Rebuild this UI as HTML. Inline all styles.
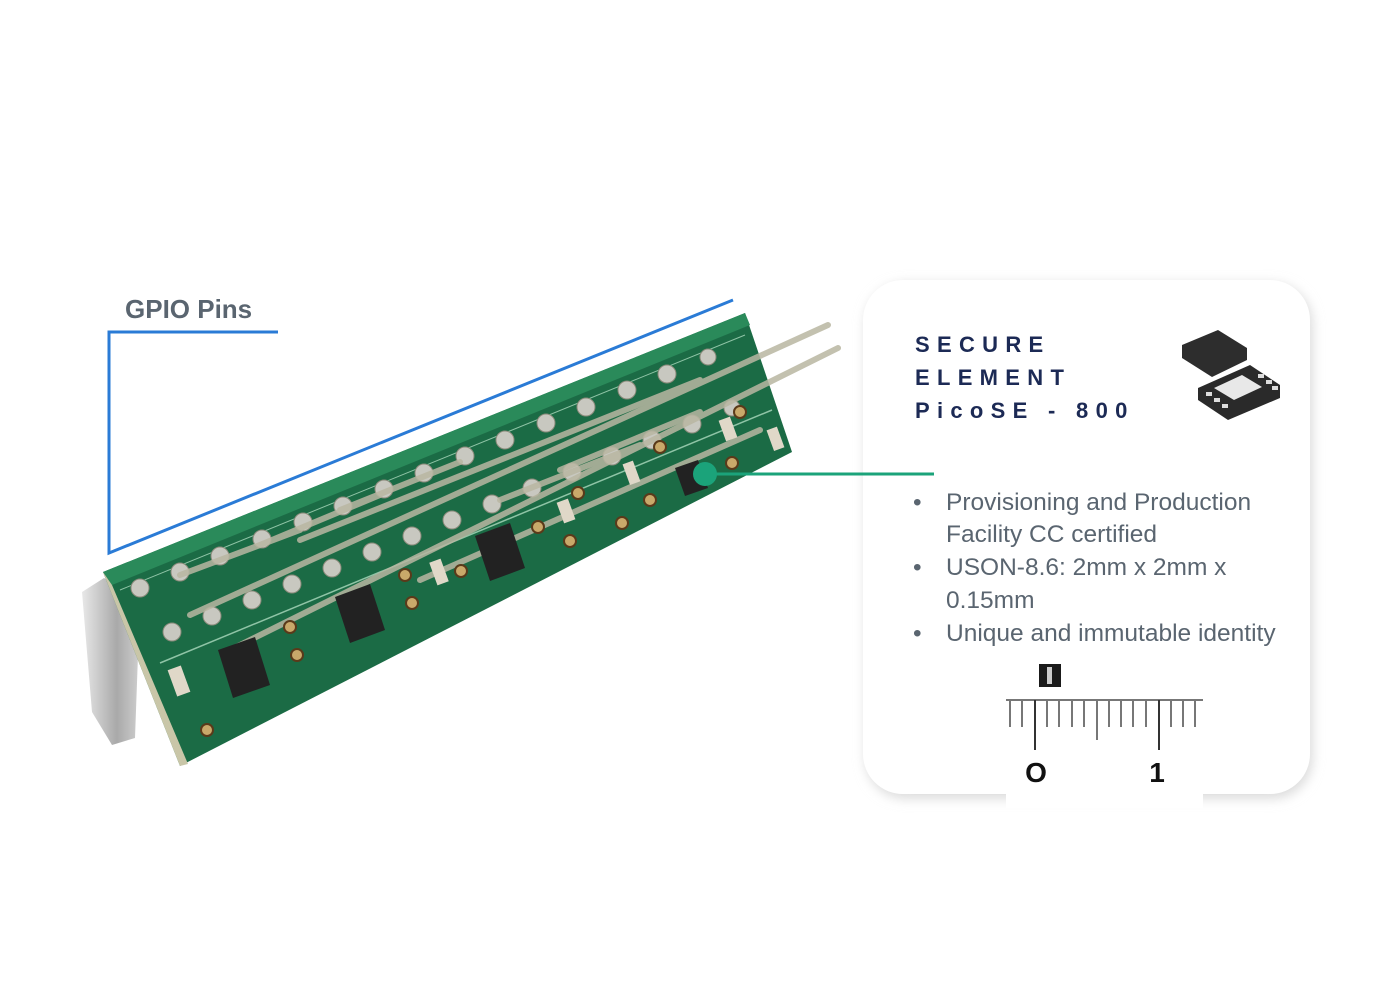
<!DOCTYPE html>
<html><head><meta charset="utf-8"><style>
html,body{margin:0;padding:0;background:#fff;width:1400px;height:1000px;overflow:hidden}
svg{display:block}
</style></head><body>
<svg width="1400" height="1000" viewBox="0 0 1400 1000" xmlns="http://www.w3.org/2000/svg">
<defs>
<filter id="sh" x="-10%" y="-10%" width="120%" height="120%"><feGaussianBlur stdDeviation="6"/></filter>
<linearGradient id="met" x1="0" x2="1"><stop offset="0" stop-color="#e8e8e8"/><stop offset="0.6" stop-color="#a9a9a9"/><stop offset="1" stop-color="#cfcfcf"/></linearGradient>
</defs>
<rect x="866" y="284" width="446" height="514" rx="40" fill="#d8d8d8" filter="url(#sh)"/>
<rect x="863" y="280" width="447" height="514" rx="40" fill="#fff"/>
<rect x="1006" y="780" width="197" height="28" fill="#fff"/>

<path d="M82,592 L104,578 L140,600 L135,738 L112,745 L92,712 Z" fill="url(#met)"/>
<polygon points="103,572 745,313 792,452 180,766" fill="#1b6b45"/>
<polygon points="103,572 745,313 750,325 112,585" fill="#2a8a5a"/>
<polygon points="103,572 112,585 188,764 180,766" fill="#c9c6a8"/>
<line x1="160" y1="663" x2="772" y2="410" stroke="#8fc4a6" stroke-width="1.5"/>
<line x1="120" y1="590" x2="745" y2="335" stroke="#8fc4a6" stroke-width="1"/>
<g fill="#c8c8c0" stroke="#8a8a7a" stroke-width="1">
<circle cx="140" cy="588" r="9"/><circle cx="180" cy="572" r="9"/><circle cx="220" cy="556" r="9"/><circle cx="262" cy="539" r="9"/><circle cx="303" cy="522" r="9"/><circle cx="343" cy="506" r="9"/><circle cx="384" cy="489" r="9"/><circle cx="424" cy="473" r="9"/><circle cx="465" cy="456" r="9"/><circle cx="505" cy="440" r="9"/><circle cx="546" cy="423" r="9"/><circle cx="586" cy="407" r="9"/><circle cx="627" cy="390" r="9"/><circle cx="667" cy="374" r="9"/><circle cx="708" cy="357" r="8"/>
<circle cx="172" cy="632" r="9"/><circle cx="212" cy="616" r="9"/><circle cx="252" cy="600" r="9"/><circle cx="292" cy="584" r="9"/><circle cx="332" cy="568" r="9"/><circle cx="372" cy="552" r="9"/><circle cx="412" cy="536" r="9"/><circle cx="452" cy="520" r="9"/><circle cx="492" cy="504" r="9"/><circle cx="532" cy="488" r="9"/><circle cx="572" cy="472" r="9"/><circle cx="612" cy="456" r="9"/><circle cx="652" cy="440" r="9"/><circle cx="692" cy="424" r="9"/><circle cx="732" cy="408" r="8"/>
</g>
<g stroke="#b9b7a2" stroke-width="6" stroke-linecap="round" opacity="0.85">
<line x1="190" y1="615" x2="828" y2="325"/>
<line x1="230" y1="650" x2="838" y2="348"/>
<line x1="300" y1="540" x2="700" y2="380"/>
<line x1="420" y1="580" x2="760" y2="430"/>
<line x1="180" y1="575" x2="300" y2="530"/>
<line x1="260" y1="545" x2="380" y2="495"/>
<line x1="340" y1="510" x2="460" y2="462"/>
<line x1="500" y1="500" x2="640" y2="445"/>
<line x1="560" y1="470" x2="700" y2="412"/>
</g>
<g fill="#222">
<polygon points="218,650 255,637 270,685 233,698"/>
<polygon points="335,597 370,584 385,630 350,643"/>
<polygon points="475,536 510,523 525,568 490,581"/>
<polygon points="675,468 698,460 708,488 685,496"/>
</g>
<g fill="#c9a96a" stroke="#5a3a1a" stroke-width="2">
<circle cx="290" cy="627" r="6"/><circle cx="297" cy="655" r="6"/><circle cx="405" cy="575" r="6"/><circle cx="412" cy="603" r="6"/><circle cx="461" cy="571" r="6"/><circle cx="538" cy="527" r="6"/><circle cx="578" cy="493" r="6"/><circle cx="570" cy="541" r="6"/><circle cx="622" cy="523" r="6"/><circle cx="650" cy="500" r="6"/><circle cx="660" cy="447" r="6"/><circle cx="740" cy="412" r="6"/><circle cx="732" cy="463" r="6"/><circle cx="207" cy="730" r="6"/>
</g>
<g fill="#e0d8c8"><rect x="172" y="667" width="14" height="28" transform="rotate(-20 179 681)"/><rect x="433" y="560" width="12" height="24" transform="rotate(-20 439 572)"/><rect x="560" y="500" width="12" height="22" transform="rotate(-20 566 511)"/><rect x="626" y="462" width="11" height="22" transform="rotate(-20 631 473)"/><rect x="722" y="418" width="12" height="22" transform="rotate(-20 728 429)"/><rect x="770" y="428" width="11" height="22" transform="rotate(-20 775 439)"/></g>

<polyline points="278,332 109,332 109,553 733,300" fill="none" stroke="#2a7bd6" stroke-width="3"/>
<text x="125" y="318" font-family="Liberation Sans, sans-serif" font-size="26" font-weight="bold" fill="#5a6570">GPIO Pins</text>

<line x1="705" y1="474" x2="934" y2="474" stroke="#1ba37a" stroke-width="3"/>
<circle cx="705" cy="474" r="12" fill="#1ba37a"/>

<g font-family="Liberation Sans, sans-serif" font-size="22" font-weight="bold" fill="#1c2a55" letter-spacing="7.3">
<text x="915" y="352">SECURE</text>
<text x="915" y="385">ELEMENT</text>
<text x="915" y="418">PicoSE - 800</text>
</g>
<polygon points="1182,345 1218,330 1247,348 1247,360 1212,377 1182,358" fill="#2d2d2d"/>
<polygon points="1198,388 1250,365 1280,385 1280,398 1228,420 1198,400" fill="#2a2a2a"/>
<polygon points="1214,388 1242,375 1262,387 1234,400" fill="#e8e8e8"/>
<g fill="#ddd"><rect x="1206" y="392" width="6" height="4"/><rect x="1214" y="398" width="6" height="4"/><rect x="1222" y="404" width="6" height="4"/><rect x="1258" y="374" width="6" height="4"/><rect x="1266" y="380" width="6" height="4"/><rect x="1272" y="386" width="6" height="4"/></g>

<g font-family="Liberation Sans, sans-serif" font-size="24.5" fill="#5a6570">
<text x="913" y="510">•</text><text x="946" y="510">Provisioning and Production</text>
<text x="946" y="542">Facility CC certified</text>
<text x="913" y="575">•</text><text x="946" y="575">USON-8.6: 2mm x 2mm x</text>
<text x="946" y="608">0.15mm</text>
<text x="913" y="641">•</text><text x="946" y="641">Unique and immutable identity</text>
</g>

<rect x="1039" y="664" width="22" height="23" fill="#1a1a1a"/>
<rect x="1047" y="667" width="5" height="17" fill="#ccc"/>
<line x1="1006" y1="700" x2="1203" y2="700" stroke="#777" stroke-width="2"/>
<g stroke="#777" stroke-width="2">
<line x1="1010" y1="700" x2="1010" y2="727"/><line x1="1022" y1="700" x2="1022" y2="727"/><line x1="1035" y1="700" x2="1035" y2="750" stroke="#333"/><line x1="1047" y1="700" x2="1047" y2="727"/><line x1="1059" y1="700" x2="1059" y2="727"/><line x1="1072" y1="700" x2="1072" y2="727"/><line x1="1084" y1="700" x2="1084" y2="727"/><line x1="1097" y1="700" x2="1097" y2="740"/><line x1="1109" y1="700" x2="1109" y2="727"/><line x1="1121" y1="700" x2="1121" y2="727"/><line x1="1133" y1="700" x2="1133" y2="727"/><line x1="1146" y1="700" x2="1146" y2="727"/><line x1="1159" y1="700" x2="1159" y2="750" stroke="#333"/><line x1="1171" y1="700" x2="1171" y2="727"/><line x1="1183" y1="700" x2="1183" y2="727"/><line x1="1195" y1="700" x2="1195" y2="727"/>
</g>
<g font-family="Liberation Sans, sans-serif" font-size="28" font-weight="bold" fill="#111">
<text x="1036" y="782" text-anchor="middle">O</text><text x="1157" y="782" text-anchor="middle">1</text>
</g>
</svg>
</body></html>
